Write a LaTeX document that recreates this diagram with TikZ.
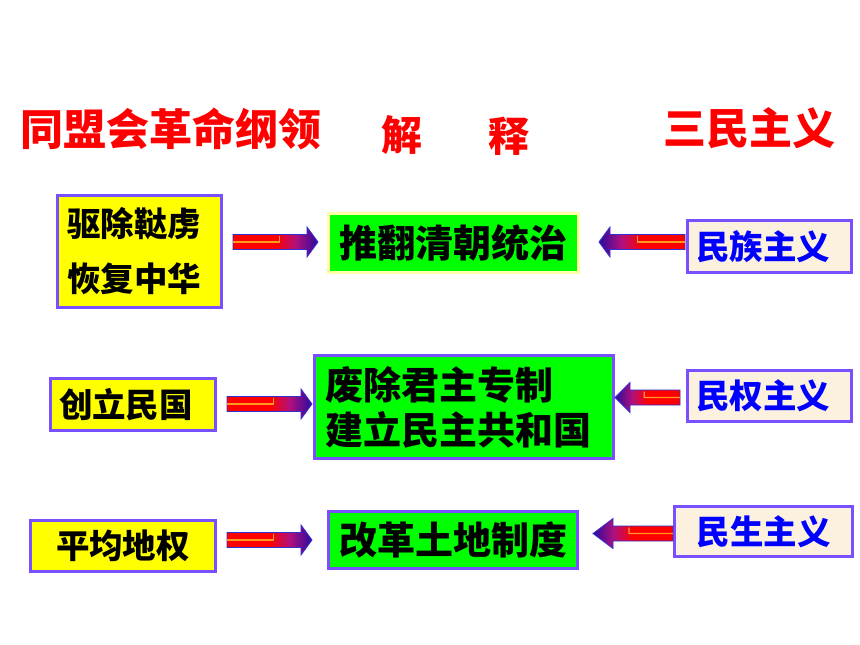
\documentclass[tikz,border=0pt]{standalone}
\usepackage{fontspec}
\newfontfamily\cjk{Noto Sans CJK SC}
\usetikzlibrary{calc}
\definecolor{boxpurple}{HTML}{7850FF}
\definecolor{boxyellow}{HTML}{FFFF00}
\definecolor{boxgreen}{HTML}{00FF00}
\definecolor{paleyellow}{HTML}{FFFFA8}
\definecolor{beige}{HTML}{FBF1DE}
\definecolor{titlered}{HTML}{FF0000}
\definecolor{textblue}{HTML}{0000FF}
\definecolor{arrdark}{HTML}{2A0A9E}
\definecolor{arrmid}{HTML}{B0107E}
\definecolor{arrred}{HTML}{FF0000}
\definecolor{arrline}{HTML}{3030D0}
\definecolor{arrhigh}{HTML}{FF9A20}
\pgfdeclarehorizontalshading{arrR}{100bp}{color(0bp)=(arrred); color(25bp)=(arrred); color(50bp)=(arrred); color(62bp)=(arrmid); color(75bp)=(arrdark); color(100bp)=(arrdark)}
\pgfdeclarehorizontalshading{arrL}{100bp}{color(0bp)=(arrdark); color(25bp)=(arrdark); color(38bp)=(arrmid); color(50bp)=(arrred); color(75bp)=(arrred); color(100bp)=(arrred)}
% #1 shading, #2 tail, #3 tip, #4 signed head length, #5 highlight step
\newcommand\fatarrow[5]{%
  \shadedraw[shading=#1, draw=arrline, line width=0.8pt]
   ($(#2)+(0,-7.5)$) -- ($(#3)+(#4,-7.5)$) -- ($(#3)+(#4,-15)$) -- (#3)
   -- ($(#3)+(#4,15)$) -- ($(#3)+(#4,7.5)$) -- ($(#2)+(0,7.5)$) -- cycle;
  \draw[arrhigh, line width=1.1pt] (#2) -- ($(#2)!0.55!(#3)$) -- ++(0,#5);
}
\tikzset{
  ybox/.style={draw=boxpurple, line width=3pt, fill=boxyellow, inner sep=0pt,
    font=\cjk\bfseries\fontsize{33.5}{55}\selectfont},
  gbox/.style={draw=boxpurple, line width=3pt, fill=boxgreen, inner sep=0pt,
    font=\cjk\bfseries\fontsize{38}{45}\selectfont},
  bbox/.style={draw=boxpurple, line width=3pt, fill=beige, inner sep=0pt, text=textblue,
    font=\cjk\bfseries\fontsize{33.5}{40}\selectfont},
  ttl/.style={text=titlered, inner sep=0pt, font=\cjk\bfseries\fontsize{43}{50}\selectfont},
}
\begin{document}
\begin{tikzpicture}[x=1pt,y=-1pt]
\fill[white] (0,0) rectangle (860,645);
\useasboundingbox (0,0) rectangle (860,645);

% titles
\node[ttl] (t1) at (171,129) {同盟会革命纲领};
\node[ttl, font=\cjk\bfseries\fontsize{41}{48}\selectfont] (t2) at (402,135) {解};
\node[ttl, font=\cjk\bfseries\fontsize{41}{48}\selectfont] (t3) at (509,136) {释};
\node[ttl] (t4) at (749,128) {三民主义};

% left column
\node[ybox, minimum width=164pt, minimum height=112pt, text width=145pt, align=left] (y1) at (139.5,251.5) {驱除鞑虏\\恢复中华};
\node[ybox, minimum width=165pt, minimum height=52pt] (y2) at (133,404.5) {创立民国\kern14pt};
\node[ybox, minimum width=185pt, minimum height=51pt] (y3) at (123,546) {平均地权};

% middle column
\node[gbox, draw=paleyellow, minimum width=250pt, minimum height=59pt] (g1) at (453.5,243) {推翻清朝统治};
\node[gbox, minimum width=299pt, minimum height=103pt, text width=277pt, align=left] (g2) at (464,407) {废除君主专制\\建立民主共和国};
\node[gbox, minimum width=249pt, minimum height=57pt] (g3) at (453,540) {改革土地制度};

% right column
\node[bbox, minimum width=164pt, minimum height=52pt] (b1) at (769.5,246.5) {民族主义\kern13pt};
\node[bbox, minimum width=164pt, minimum height=51pt] (b2) at (769.5,396) {民权主义\kern13pt};
\node[bbox, minimum width=178pt, minimum height=50pt] (b3) at (763.5,531.5) {民生主义};

% arrow end points
\coordinate (r1a) at (233,242); \coordinate (r1b) at (318,242);
\coordinate (r2a) at (227,404); \coordinate (r2b) at (312,404);
\coordinate (r3a) at (227,540); \coordinate (r3b) at (312,540);
\coordinate (l1a) at (685,242); \coordinate (l1b) at (599,242);
\coordinate (l2a) at (680,397.5); \coordinate (l2b) at (615,397.5);
\coordinate (l3a) at (673,533.5); \coordinate (l3b) at (593,533.5);

\fatarrow{arrR}{r1a}{r1b}{-11}{-6}
\fatarrow{arrR}{r2a}{r2b}{-11}{-6}
\fatarrow{arrR}{r3a}{r3b}{-11}{-6}
\fatarrow{arrL}{l1a}{l1b}{11}{-6}
\fatarrow{arrL}{l2a}{l2b}{15}{-6}
\fatarrow{arrL}{l3a}{l3b}{20}{-6}
\end{tikzpicture}
\end{document}
